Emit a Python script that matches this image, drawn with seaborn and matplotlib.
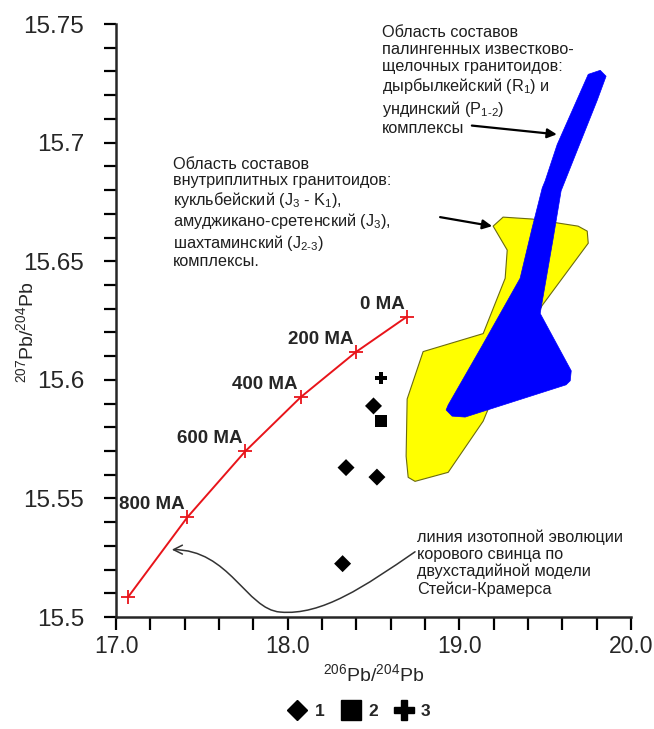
import numpy as np
import pandas as pd
import matplotlib
matplotlib.use("Agg")
import matplotlib.pyplot as plt
from matplotlib.path import Path
from matplotlib.patches import FancyArrowPatch
from matplotlib.lines import Line2D
import seaborn as sns

sns.set_style("ticks")
plt.rcParams["font.family"] = ["Liberation Sans", "DejaVu Sans"]
plt.rcParams["mathtext.fontset"] = "custom"
plt.rcParams["mathtext.rm"] = "Liberation Sans"

# Stacey-Kramers two-stage crustal lead evolution curve
sk_age = ["0 MA", "200 MA", "400 MA", "600 MA", "800 MA", ""]
sk_x = [18.696, 18.397, 18.076, 17.752, 17.416, 17.072]
sk_y = [15.6267, 15.6117, 15.5927, 15.5698, 15.5421, 15.5086]

# Sample compositions by group
g1_x = [18.50, 18.34, 18.52, 18.32]
g1_y = [15.589, 15.563, 15.559, 15.5225]
g2_x = [18.544]
g2_y = [15.5825]
g3_x = [18.544]
g3_y = [15.6008]

# Field of intraplate granitoids (yellow)
intra_x = [19.197, 19.255, 19.424, 19.692, 19.745, 19.751, 19.483, 19.296, 19.156,
           19.139, 18.935, 18.742, 18.702, 18.690, 18.696, 18.789, 19.139, 19.267, 19.279]
intra_y = [15.6648, 15.6686, 15.6678, 15.6648, 15.6627, 15.6576, 15.6314, 15.6089, 15.5856,
           15.5826, 15.5610, 15.5572, 15.5589, 15.5678, 15.5919, 15.6119, 15.6195, 15.6428, 15.6547]

# Field of palingenic calc-alkaline granitoids (blue)
paling_x = [19.751, 19.821, 19.855, 19.803, 19.686, 19.593, 19.547, 19.471, 19.652, 19.646,
            19.622, 19.034, 18.958, 18.923, 18.935, 19.133, 19.354, 19.424, 19.483, 19.500, 19.570]
paling_y = [15.7288, 15.7305, 15.7280, 15.7178, 15.6966, 15.6797, 15.6597, 15.6280, 15.6038, 15.5996,
            15.5979, 15.5843, 15.5847, 15.5873, 15.5894, 15.6144, 15.6428, 15.6640, 15.6809, 15.6839, 15.6992]

x_ticks = [17.0, 18.0, 19.0, 20.0]
x_labels = ["17.0", "18.0", "19.0", "20.0"]
y_ticks = [15.5, 15.55, 15.6, 15.65, 15.7, 15.75]
y_labels = ["15.5", "15.55", "15.6", "15.65", "15.7", "15.75"]

groups = ["1"] * len(g1_x) + ["2"] * len(g2_x) + ["3"] * len(g3_x)
samples = pd.DataFrame({"x": g1_x + g2_x + g3_x, "y": g1_y + g2_y + g3_y, "group": groups})
curve = pd.DataFrame({"x": sk_x, "y": sk_y})

fig = plt.figure(figsize=(6.54, 7.29), dpi=100)
ax = fig.add_axes([0.1774, 0.1536, 0.9648 - 0.1774, 0.967 - 0.1536])

ax.fill(intra_x, intra_y, facecolor="#ffff00", edgecolor="#6b6b10", linewidth=0.8, zorder=1)
ax.fill(paling_x, paling_y, facecolor="#0000ff", edgecolor="#0000ff", linewidth=0.5, zorder=2)

sns.lineplot(data=curve, x="x", y="y", sort=False, color="#e8141a", linewidth=1.4,
             marker="+", markersize=10, markeredgewidth=1.3, markeredgecolor="#e8141a",
             ax=ax, zorder=3)

sns.scatterplot(data=samples, x="x", y="y", style="group",
                markers={"1": "D", "2": "s", "3": "P"},
                s=75, color="black", edgecolor="none",
                legend=False, ax=ax, zorder=4)

for lab, xv, yv in zip(sk_age, sk_x, sk_y):
    if lab:
        ax.annotate(lab, (xv, yv), xytext=(-2, 9), textcoords="offset points",
                    ha="right", va="center", fontsize=13.5, fontweight="bold")

ax.set_xlim(17.0, 20.0)
ax.set_ylim(15.5, 15.75)
ax.set_xticks(x_ticks)
ax.set_xticklabels(x_labels)
ax.set_yticks(y_ticks)
ax.set_yticklabels(y_labels)
ax.set_xticks(np.arange(17.0, 20.0001, 0.2), minor=True)
ax.set_yticks(np.arange(15.5, 15.75001, 0.01), minor=True)
ax.tick_params(which="both", direction="out", length=9, width=1.6, color="black")
ax.tick_params(axis="x", which="major", labelsize=16.5, pad=4)
ax.tick_params(axis="y", which="major", labelsize=17.5, pad=14)
for side in ["top", "right"]:
    ax.spines[side].set_visible(False)
for side in ["left", "bottom"]:
    ax.spines[side].set_linewidth(1.8)

ax.set_xlabel(r"$^{206}$Pb/$^{204}$Pb", fontsize=14, labelpad=4)
ax.set_ylabel(r"$^{207}$Pb/$^{204}$Pb", fontsize=14)
ax.yaxis.set_label_coords(-0.152, 0.48)

txt_kw = dict(fontsize=11.7, va="top", ha="left", color="#1e1e1e")
ax.text(18.55, 15.7497,
        "Область составов\nпалингенных известково-\nщелочных гранитоидов:\n"
        "дырбылкейский (R$_1$) и\nундинский (P$_{1\u20102}$)\nкомплексы",
        linespacing=1.17, **txt_kw)
ax.text(17.332, 15.694,
        "Область составов\nвнутриплитных гранитоидов:\nкукльбейский (J$_3$ - K$_1$),\n"
        "амуджикано-сретенский (J$_3$),\nшахтаминский (J$_{2\u20103}$)\nкомплексы.",
        linespacing=1.1, **txt_kw)
ax.text(18.754, 15.5369,
        "линия изотопной эволюции\nкорового свинца по\nдвухстадийной модели\nСтейси-Крамерса",
        linespacing=1.15, **txt_kw)

ax.annotate("", xy=(19.568, 15.7035), xytext=(19.073, 15.7072),
            arrowprops=dict(arrowstyle="-|>", color="black", lw=1.6,
                            mutation_scale=14, shrinkA=0, shrinkB=0))
ax.annotate("", xy=(19.191, 15.6648), xytext=(18.888, 15.6686),
            arrowprops=dict(arrowstyle="-|>", color="black", lw=1.6,
                            mutation_scale=14, shrinkA=0, shrinkB=0))

# S-shaped leader from the curve caption to the evolution line
leader = Path(
    [(18.742, 15.5275), (18.45, 15.513), (18.20, 15.5005), (17.956, 15.5021),
     (17.76, 15.5032), (17.66, 15.5285), (17.325, 15.5284)],
    [Path.MOVETO, Path.CURVE4, Path.CURVE4, Path.CURVE4, Path.CURVE4, Path.CURVE4, Path.CURVE4])
ax.add_patch(FancyArrowPatch(path=leader, arrowstyle="->", mutation_scale=16,
                             color="#333333", lw=1.1, zorder=5))

handles = [
    Line2D([], [], linestyle="none", marker="D", markersize=10, color="black"),
    Line2D([], [], linestyle="none", marker="s", markersize=14, color="black"),
    Line2D([], [], linestyle="none", marker="P", markersize=14, color="black"),
]
fig.legend(handles, ["1", "2", "3"], loc="lower center", bbox_to_anchor=(0.55, -0.008),
           ncol=3, frameon=False, handlelength=1.0, handletextpad=0.5, columnspacing=1.0,
           prop={"weight": "bold", "size": 12.5})

fig.savefig("out.png", dpi=100)
